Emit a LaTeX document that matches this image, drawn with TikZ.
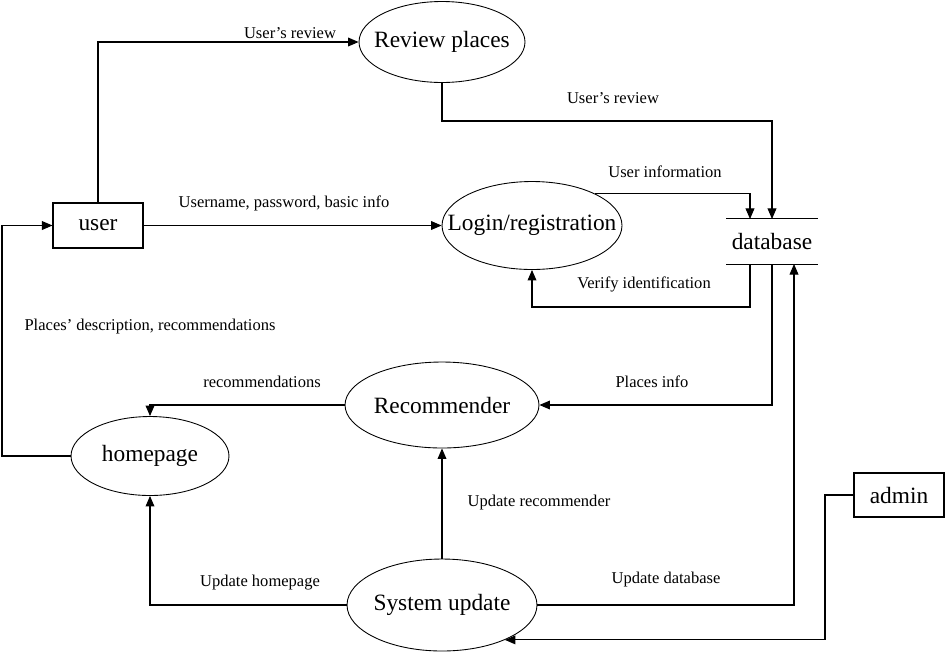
\documentclass[tikz,border=0pt]{standalone}
\usepackage{fontspec}
\setmainfont{Liberation Serif}
\usetikzlibrary{shapes.geometric,arrows.meta}
\newcommand{\zw}[1]{\makebox[0pt]{#1}}
\begin{document}
\begin{tikzpicture}[x=0.02cm,y=-0.02cm,
  proc/.style={ellipse,draw,line width=0.5pt,inner sep=0pt,font=\fontsize{13.3}{15}\selectfont},
  ent/.style={rectangle,draw,line width=0.6pt,inner sep=0pt,font=\fontsize{13.3}{15}\selectfont},
  flow/.style={line width=0.6pt,-{Triangle[length=6pt,width=5pt]}},
  plain/.style={line width=0.6pt},
  lbl/.style={font=\fontsize{9.4}{11}\selectfont,inner sep=0pt}]
\useasboundingbox (0,0) rectangle (945,653);
% nodes
\node[ent,minimum width=1.8cm,minimum height=0.9cm] (user) at (98,225.5) {user};
\node[ent,minimum width=1.8cm,minimum height=0.88cm] (admin) at (899,495) {admin};
\node[proc,minimum width=3.32cm,minimum height=1.62cm] (review) at (442,42) {\zw{Review places}};
\node[proc,minimum width=3.6cm,minimum height=1.76cm] (login) at (532,225.5) {\zw{Login/registration}};
\node[proc,minimum width=3.88cm,minimum height=1.72cm] (rec) at (442,405) {\zw{Recommender}};
\node[proc,minimum width=3.16cm,minimum height=1.58cm] (home) at (150,456) {\zw{homepage}};
\node[proc,minimum width=3.8cm,minimum height=1.84cm] (sys) at (442,605) {\zw{System update}};
\node[minimum width=1.82cm,minimum height=0.9cm,inner sep=0pt,font=\fontsize{13.3}{15}\selectfont] (db) at (772,241.5) {database};
\draw[plain] (db.north west) -- (db.north east);
\draw[plain] (db.south west) -- (db.south east);
% coordinates on the data store
\coordinate (dbt1) at (750,219);
\coordinate (dbt2) at (772,219);
\coordinate (dbb1) at (750,264);
\coordinate (dbb2) at (772,264);
\coordinate (dbb3) at (794,264);
% connectors
\draw[flow] (user.north) |- (review.west);
\node[lbl] at (290,33) {User’s review};
\draw[flow] (review.south) -- (442,121) -| (dbt2);
\node[lbl] at (613,98) {User’s review};
\draw[flow] (login.27) -| (dbt1);
\node[lbl] at (665,172) {User information};
\draw[flow] (user.east) -- (login.west);
\node[lbl] at (284,203) {Username, password, basic info};
\draw[flow] (dbb1) |- (532,307) -- (login.south);
\node[lbl] at (644,284) {Verify identification};
\draw[flow] (dbb2) |- (rec.east);
\node[lbl] at (652,382) {Places info};
\draw[flow] (sys.east) -| (dbb3);
\node[lbl] at (666,580) {Update database};
\draw[flow] (admin.west) -- (825,495) |- (sys.-29);
\draw[flow] (sys.north) -- (rec.south);
\node[lbl] at (539,503) {Update recommender};
\draw[flow] (sys.west) -| (home.south);
\node[lbl] at (260,583) {Update homepage};
\draw[flow] (rec.west) -| (home.north);
\node[lbl] at (262,382) {recommendations};
\draw[flow] (home.west) -- (2,456) |- (user.west);
\node[lbl] at (150,327) {Places’ description, recommendations};
\end{tikzpicture}
\end{document}
